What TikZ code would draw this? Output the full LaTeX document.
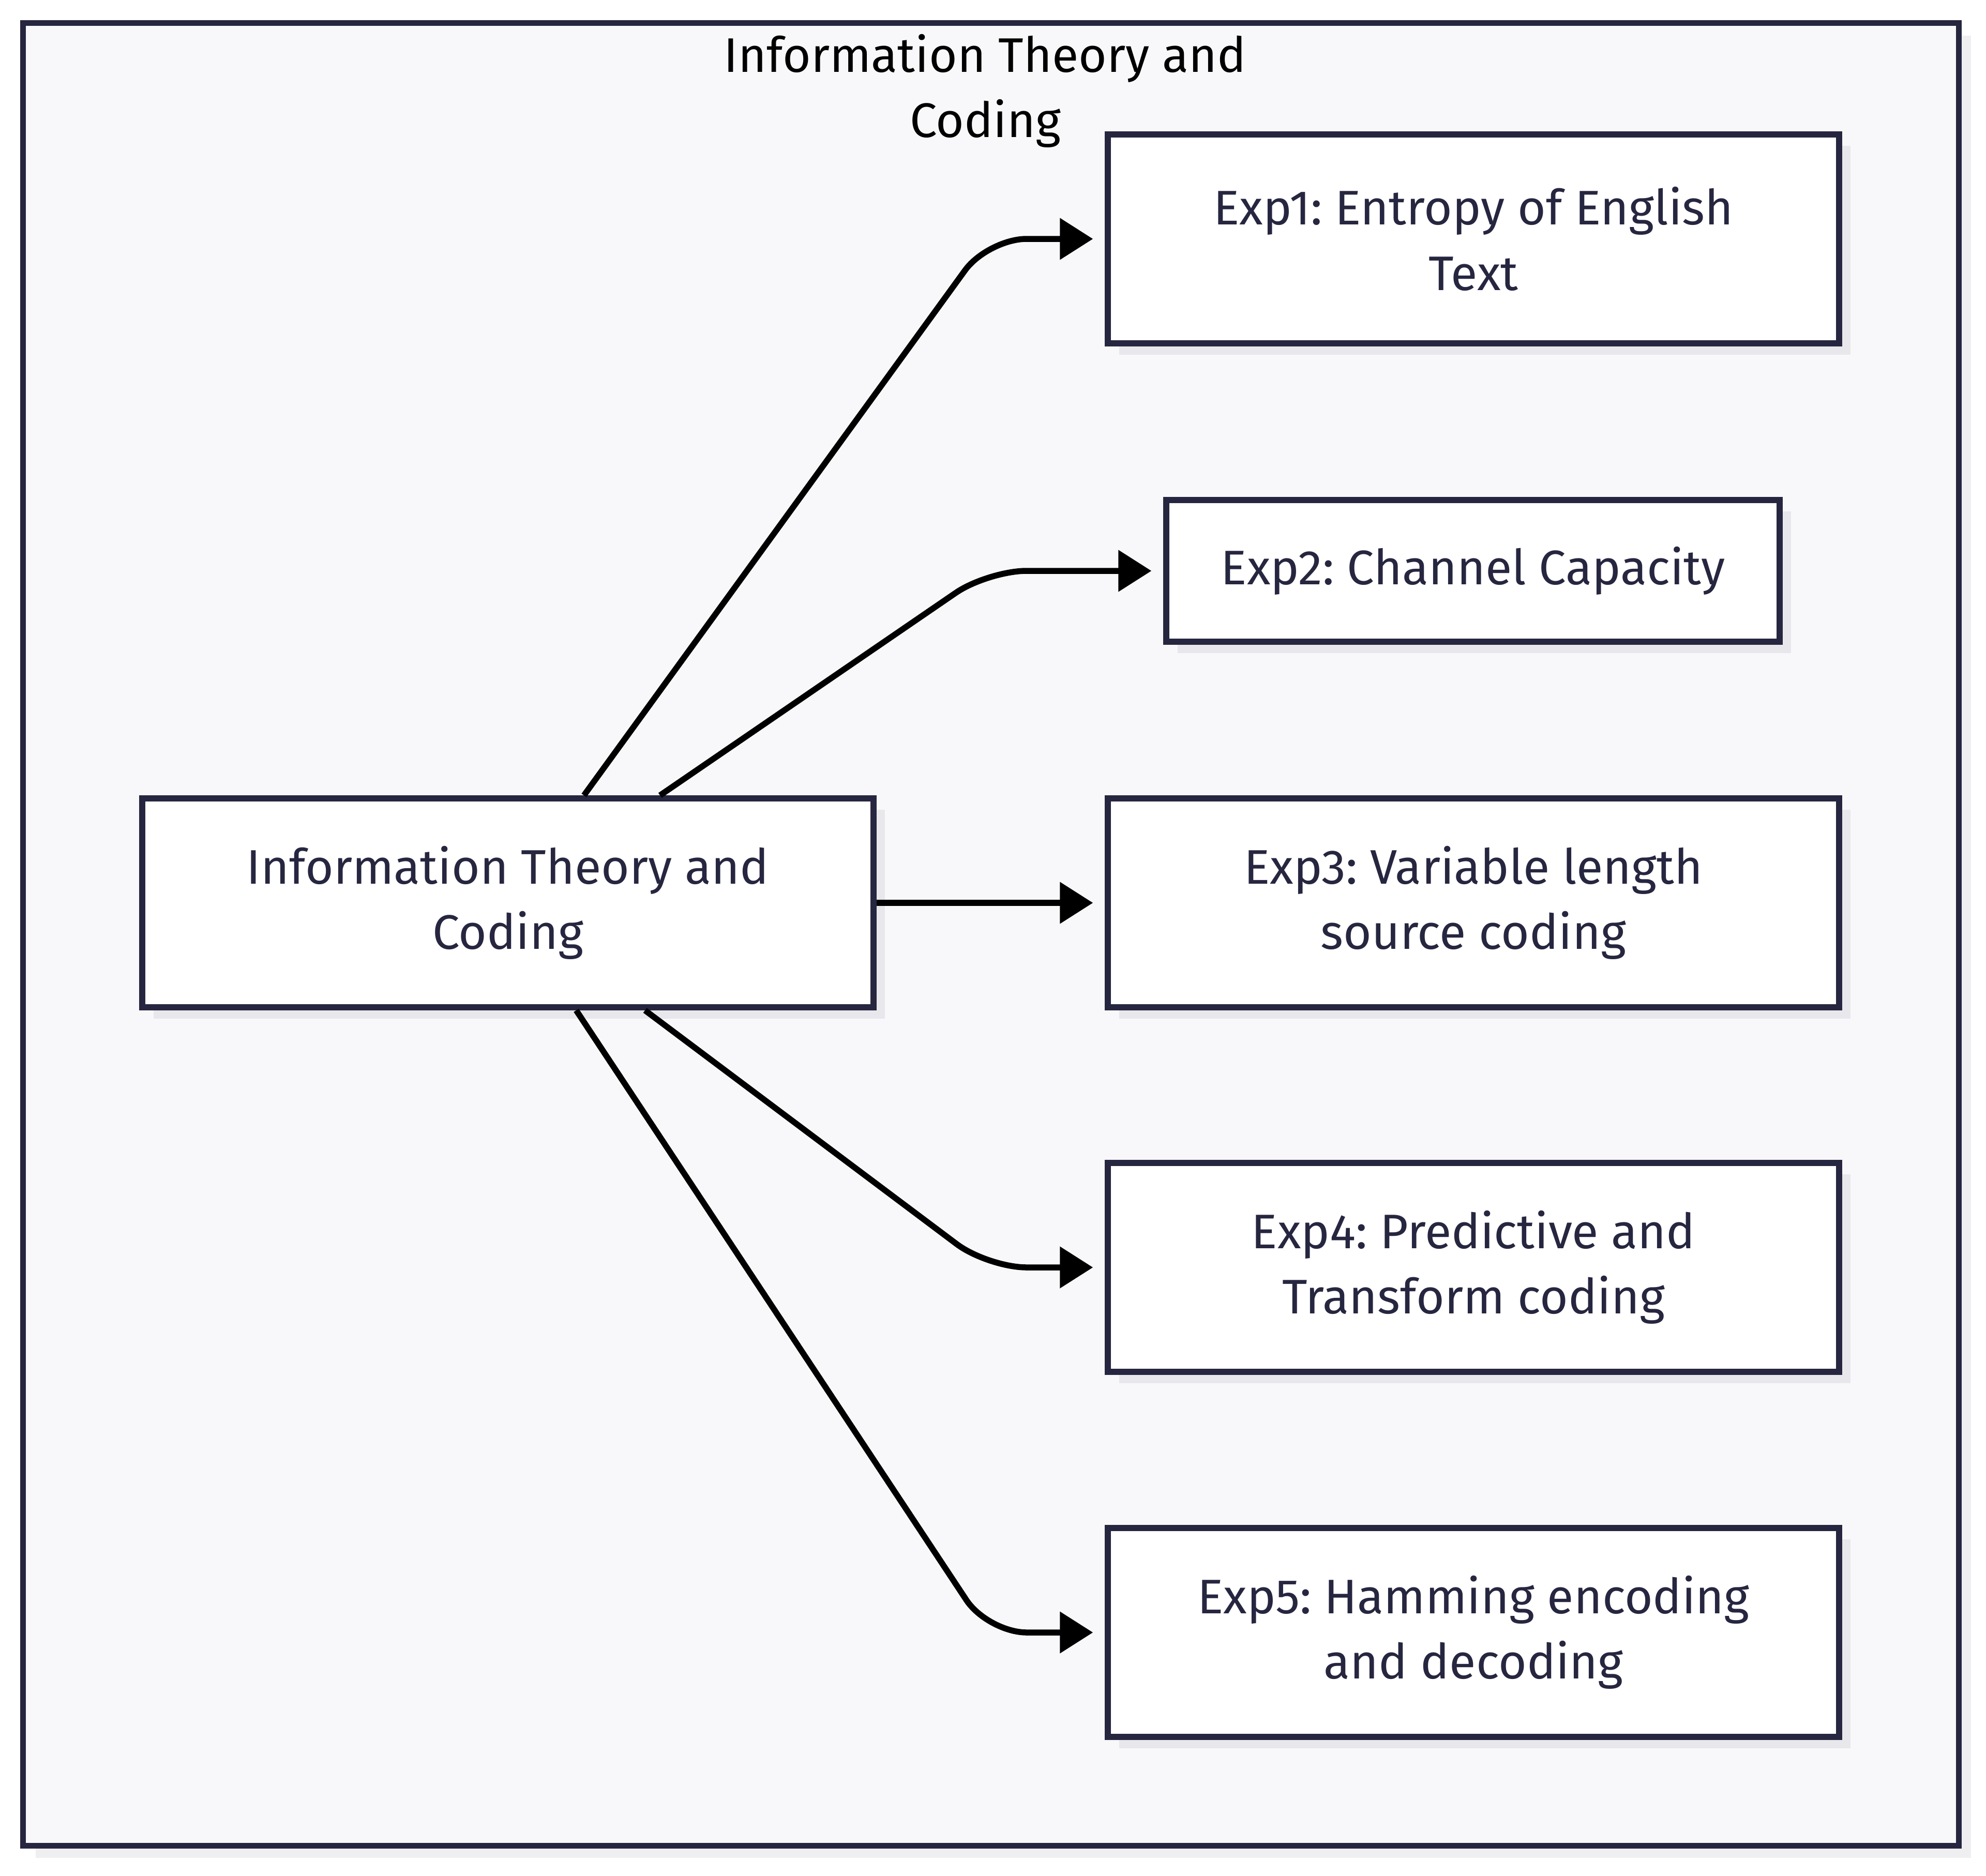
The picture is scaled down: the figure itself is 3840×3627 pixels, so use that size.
\documentclass[tikz,border=0pt]{standalone}
\usepackage{fontspec}
\setmainfont{Fira Sans}
\usepackage{xcolor}
\usepackage{tikz}
\usetikzlibrary{positioning,arrows.meta,calc,shadows}
\frenchspacing

\definecolor{ink}{HTML}{262640}
\definecolor{framebg}{HTML}{F8F8FA}
\definecolor{boxshade}{HTML}{E8E8EC}
\definecolor{frameshade}{HTML}{EFEFF1}

\begin{document}
\begin{tikzpicture}[x=0.01cm, y=-0.01cm, font=\fontsize{26.7}{36}\selectfont,
  frame/.style={draw=ink, line width=0.11cm, fill=framebg, minimum width=37.4cm, minimum height=35.22cm, inner sep=0pt,
    drop shadow={shadow xshift=0.24cm, shadow yshift=-0.24cm, fill=frameshade, opacity=1}},
  expbox/.style={draw=ink, line width=0.115cm, fill=white, text=ink, align=center, inner sep=0pt,
    minimum width=14.13cm, minimum height=4.04cm,
    drop shadow={shadow xshift=0.22cm, shadow yshift=-0.22cm, fill=boxshade, opacity=1}},
  ttl/.style={align=center, text=black, inner sep=0pt},
  arr/.style={-{Triangle[length=0.64cm, width=0.78cm]}, line width=0.115cm, black, rounded corners=0.75cm, shorten >=0.23cm}]
\useasboundingbox (0,0) rectangle (3840,3627);
% outer group
\node[frame] (grp) at (1916,1807) {};
\node[ttl] (title) at (1905,176) {Information Theory and\\Coding};
% nodes
\node[expbox] (main) at (982,1746) {Information Theory and\\Coding};
\node[expbox] (e1) at (2849,462) {Exp1: Entropy of English\\Text};
\node[expbox, minimum width=11.85cm, minimum height=2.74cm] (e2) at (2848,1104) {Exp2: Channel Capacity};
\node[expbox] (e3) at (2849,1746) {Exp3: Variable length\\source coding};
\node[expbox] (e4) at (2849,2451) {Exp4: Predictive and\\Transform coding};
\node[expbox] (e5) at (2849,3157) {Exp5: Hamming encoding\\and decoding};
% edges
\coordinate (bend) at (1910,0);
\draw[arr] ([xshift=1.47cm]main.north) -- (bend |- e1.west) -- (e1.west);
\draw[arr] ([xshift=2.94cm]main.north) -- (bend |- e2.west) -- (e2.west);
\draw[arr] (main.east) -- (e3.west);
\draw[arr] ([xshift=2.65cm]main.south) -- (bend |- e4.west) -- (e4.west);
\draw[arr] ([xshift=1.32cm]main.south) -- (bend |- e5.west) -- (e5.west);
\end{tikzpicture}
\end{document}
